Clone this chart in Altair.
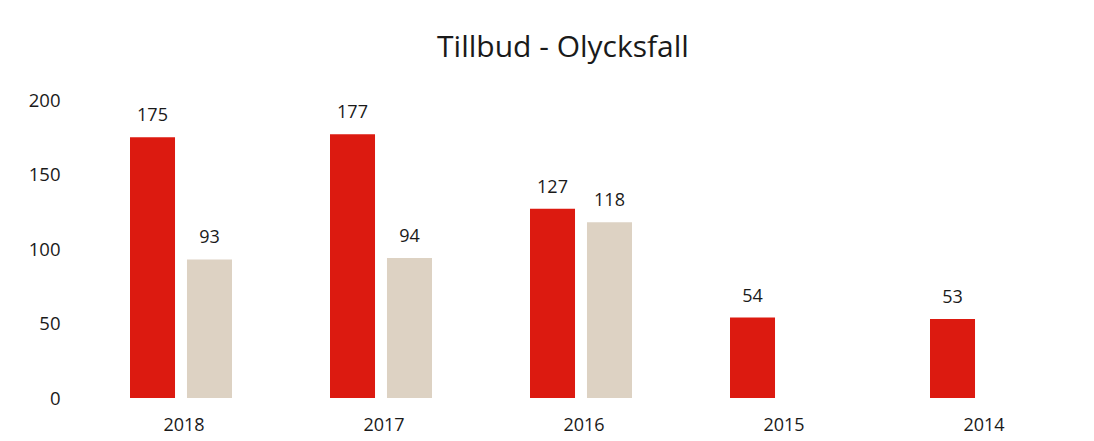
import altair as alt
import pandas as pd

years = ["2018", "2017", "2016", "2015", "2014"]
tillbud = [175, 177, 127, 54, 53]
olycksfall = [93, 94, 118, None, None]
series = ["Tillbud", "Olycksfall"]
colors = ["#dc1a10", "#ddd2c3"]

rows = []
for y, t, o in zip(years, tillbud, olycksfall):
    rows.append({"year": y, "series": series[0], "value": t})
    if o is not None:
        rows.append({"year": y, "series": series[1], "value": o})
df = pd.DataFrame(rows)

font = "Open Sans"

base = alt.Chart(df).encode(
    x=alt.X("year:N", sort=years, title=None,
            scale=alt.Scale(paddingInner=0.49, paddingOuter=0.245),
            axis=alt.Axis(labelAngle=0, labelFontSize=18, labelColor="#1a1a1a",
                          labelFont=font, domain=False, ticks=False, labelPadding=18,
                          labelOffset=3)),
    xOffset=alt.XOffset("series:N", sort=series,
                        scale=alt.Scale(domain=series, paddingInner=0.21, paddingOuter=0)),
    y=alt.Y("value:Q", title=None,
            scale=alt.Scale(domain=[0, 200]),
            axis=alt.Axis(values=[0, 50, 100, 150, 200], labelFontSize=18.5,
                          labelColor="#1a1a1a", labelFont=font, domain=False,
                          ticks=False, grid=False, labelPadding=21)),
)

bars = base.mark_bar().encode(
    color=alt.Color("series:N", sort=series,
                    scale=alt.Scale(domain=series, range=colors), legend=None)
)

labels = base.mark_text(baseline="bottom", dy=-12, fontSize=18, font=font,
                        color="#1a1a1a").encode(text=alt.Text("value:Q"))

chart = (bars + labels).properties(
    width=1000,
    height=298,
    title=alt.TitleParams("Tillbud - Olycksfall", fontSize=30, font=font,
                          fontWeight="normal", color="#1a1a1a", offset=28, dx=-18),
    autosize=alt.AutoSizeParams(type="none"),
    padding={"left": 81, "top": 100, "right": 13, "bottom": 43},
).configure(background="white").configure_view(strokeWidth=0, stroke="transparent")

chart.save("out.html", embed_options={"renderer": "svg", "actions": False})
